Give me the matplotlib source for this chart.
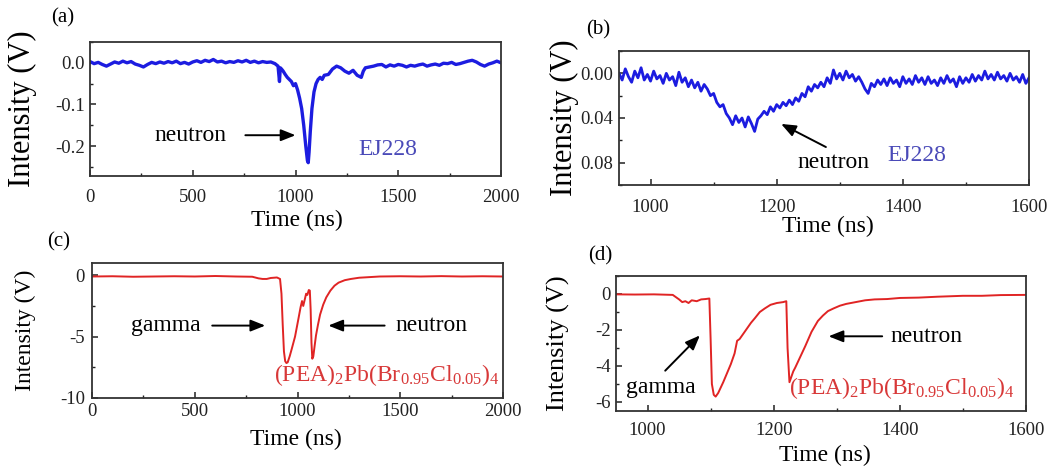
import numpy as np
import matplotlib
matplotlib.use("Agg")
import matplotlib.pyplot as plt
from matplotlib.ticker import MultipleLocator, FormatStrFormatter

plt.rcParams['font.family'] = ['Liberation Serif', 'DejaVu Serif']
plt.rcParams['mathtext.fontset'] = 'custom'
plt.rcParams['mathtext.rm'] = 'Liberation Serif'
plt.rcParams['mathtext.default'] = 'regular'
plt.rcParams['axes.unicode_minus'] = False

# ---------------- data ----------------
# (a) EJ228, full window
a_time = [0, 20, 40, 60, 80, 100, 120, 140, 160, 180,
          200, 220, 240, 260, 280, 300, 320, 340, 360, 380,
          400, 420, 440, 460, 480, 500, 520, 540, 560, 580,
          600, 620, 640, 660, 680, 700, 720, 740, 760, 780,
          800, 820, 840, 860, 880, 900, 915, 922, 926, 932,
          940, 950, 960, 970, 980, 990, 1000, 1010, 1020, 1030,
          1040, 1050, 1058, 1062, 1066, 1072, 1080, 1090, 1100, 1110,
          1120, 1130, 1140, 1160, 1180, 1200, 1220, 1240, 1260, 1280,
          1300, 1320, 1330, 1340, 1360, 1380, 1400, 1420, 1440, 1460,
          1480, 1500, 1520, 1540, 1560, 1580, 1600, 1620, 1640, 1660,
          1680, 1700, 1720, 1740, 1760, 1780, 1800, 1820, 1840, 1860,
          1880, 1900, 1920, 1940, 1960, 1980, 2000]
a_val = [0.003, -0.002, 0.001, -0.004, -0.008, -0.003, 0.002, -0.001, 0.004, 0.000,
         0.003, -0.003, -0.006, -0.010, -0.004, 0.001, -0.002, 0.002, -0.001, 0.003,
         0.000, 0.004, -0.002, 0.001, -0.003, 0.002, 0.005, 0.001, 0.006, 0.003,
         0.008, 0.002, 0.004, 0.000, 0.003, 0.001, 0.005, 0.002, 0.006, 0.001,
         0.004, 0.000, 0.003, 0.001, 0.002, -0.002, -0.008, -0.045, -0.012, -0.015,
         -0.020, -0.028, -0.035, -0.040, -0.045, -0.055, -0.050, -0.065, -0.085, -0.110,
         -0.150, -0.200, -0.235, -0.240, -0.215, -0.165, -0.110, -0.070, -0.050, -0.040,
         -0.035, -0.040, -0.030, -0.028, -0.015, -0.008, -0.012, -0.020, -0.025, -0.018,
         -0.030, -0.035, -0.020, -0.012, -0.010, -0.008, -0.005, -0.004, -0.010, -0.005,
         -0.008, -0.004, -0.006, -0.010, -0.006, -0.008, -0.005, -0.003, -0.008, -0.005,
         -0.003, -0.006, -0.001, -0.002, 0.001, -0.004, -0.002, 0.001, 0.004, 0.006,
         0.002, -0.004, -0.008, -0.003, 0.000, 0.004, 0.000]

# (b) EJ228, zoomed window (amplitude, axis drawn inverted)
b_time = np.arange(950, 1601, 5)
b_val = [0.000, 0.006, -0.004, 0.003, 0.008, -0.002, 0.004, -0.005, 0.006, 0.001,
         0.007, -0.002, 0.005, 0.002, 0.009, 0.000, 0.006, 0.003, 0.011, -0.001,
         0.008, 0.004, 0.012, 0.006, 0.013, 0.008, 0.016, 0.010, 0.014, 0.020,
         0.018, 0.026, 0.030, 0.028, 0.036, 0.040, 0.046, 0.038, 0.044, 0.040,
         0.048, 0.039, 0.045, 0.052, 0.041, 0.038, 0.034, 0.037, 0.030, 0.034,
         0.028, 0.031, 0.026, 0.029, 0.024, 0.028, 0.022, 0.025, 0.018, 0.021,
         0.012, 0.016, 0.010, 0.013, 0.008, 0.012, 0.004, 0.009, -0.003, 0.005,
         0.000, 0.006, -0.002, 0.004, 0.001, 0.007, 0.003, 0.008, 0.014, 0.018,
         0.009, 0.012, 0.006, 0.010, 0.005, 0.011, 0.004, 0.009, 0.006, 0.012,
         0.003, 0.009, 0.005, 0.010, 0.002, 0.008, 0.004, 0.010, 0.003, 0.009,
         0.006, 0.011, 0.004, 0.009, 0.002, 0.008, 0.005, 0.012, 0.003, 0.009,
         0.004, 0.008, 0.001, 0.007, 0.002, 0.006, -0.002, 0.005, 0.001, 0.006,
         -0.001, 0.005, 0.002, 0.007, 0.000, 0.006, 0.003, 0.008, 0.001, 0.009,
         0.004]

# (c) perovskite, full window
c_time = [0, 100, 200, 300, 400, 500, 600, 700, 780, 810,
          830, 850, 870, 900, 915, 922, 928, 934, 940, 946,
          952, 962, 972, 988, 1005, 1015, 1022, 1028, 1035, 1042,
          1048, 1055, 1060, 1064, 1068, 1072, 1077, 1083, 1090, 1100,
          1110, 1125, 1140, 1160, 1180, 1200, 1230, 1260, 1300, 1350,
          1400, 1500, 1600, 1700, 1800, 1900, 2000]
c_val = [-0.1, -0.08, -0.12, -0.1, -0.08, -0.1, -0.06, -0.1, -0.12, -0.25,
         -0.3, -0.3, -0.22, -0.18, -0.3, -1.5, -4.0, -6.2, -7.0, -7.15,
         -7.1, -6.6, -6.0, -5.0, -3.5, -2.6, -2.1, -2.5, -2.0, -1.5,
         -1.6, -1.2, -1.25, -2.8, -5.5, -6.8, -6.6, -5.8, -4.9, -4.0,
         -3.2, -2.4, -1.8, -1.25, -0.85, -0.6, -0.4, -0.3, -0.2, -0.15,
         -0.1, -0.08, -0.1, -0.07, -0.1, -0.08, -0.1]

# (d) perovskite, zoomed window
d_time = [950, 980, 1010, 1040, 1050, 1055, 1060, 1065, 1070, 1078,
          1085, 1092, 1098, 1100, 1102, 1105, 1108, 1112, 1116, 1120,
          1126, 1132, 1138, 1142, 1146, 1152, 1158, 1164, 1170, 1178,
          1186, 1195, 1205, 1215, 1220, 1222, 1225, 1228, 1231, 1234,
          1238, 1242, 1246, 1250, 1255, 1260, 1265, 1270, 1278, 1286,
          1295, 1305, 1315, 1330, 1345, 1360, 1380, 1400, 1430, 1460,
          1500, 1530, 1560, 1600]
d_val = [-0.02, -0.03, -0.02, -0.05, -0.3, -0.45, -0.4, -0.5, -0.35, -0.4,
         -0.3, -0.28, -0.25, -2.5, -5.0, -5.6, -5.7, -5.5, -5.2, -4.9,
         -4.4, -3.9, -3.3, -2.6, -2.5, -2.2, -1.9, -1.6, -1.35, -1.0,
         -0.8, -0.6, -0.5, -0.45, -0.4, -3.0, -4.9, -4.6, -4.3, -4.1,
         -3.8, -3.5, -3.2, -2.9, -2.5, -2.1, -1.8, -1.5, -1.2, -0.95,
         -0.8, -0.65, -0.55, -0.45, -0.35, -0.3, -0.28, -0.22, -0.2, -0.15,
         -0.1, -0.1, -0.06, -0.05]

formula = r'(PEA)$_2$Pb(Br$_{0.95}$Cl$_{0.05}$)$_4$'

BLUE = '#1c1ce0'
BLUE_TXT = '#4a4ab8'
RED = '#e02424'
RED_TXT = '#d83838'

W, H = 1051, 466
fig = plt.figure(figsize=(W / 100, H / 100), dpi=100)


def px_rect(l, r, t, b):
    return [l / W, 1 - b / H, (r - l) / W, (b - t) / H]


def style(ax, xpad, ypad):
    for s in ax.spines.values():
        s.set_linewidth(1.3)
        s.set_color('#333333')
    ax.tick_params(which='both', direction='in', top=False, right=False,
                   labelsize=13.5, colors='#222222')
    ax.tick_params(which='major', length=4, width=1.1)
    ax.tick_params(which='minor', length=2.5, width=1.0)
    ax.tick_params(axis='x', pad=xpad)
    ax.tick_params(axis='y', pad=ypad)


arrow = dict(arrowstyle='-|>,head_length=0.55,head_width=0.22', color='black',
             lw=1.4, mutation_scale=16, shrinkA=0, shrinkB=0)

# ---------------- (a) ----------------
ax = fig.add_axes(px_rect(90, 501, 42, 176))
ax.plot(a_time, a_val, color=BLUE, lw=2.4)
ax.set_xlim(0, 2000)
ax.set_ylim(-0.272, 0.05)
ax.xaxis.set_major_locator(MultipleLocator(500))
ax.xaxis.set_minor_locator(MultipleLocator(250))
ax.yaxis.set_major_locator(MultipleLocator(0.1))
ax.yaxis.set_minor_locator(MultipleLocator(0.05))
ax.yaxis.set_major_formatter(FormatStrFormatter('%.1f'))
style(ax, 9, 3.5)
ax.set_xlabel('Time (ns)', fontsize=17, va='center')
ax.xaxis.set_label_coords(0.504, -0.33)
ax.set_ylabel('Intensity (V)', fontsize=22, va='center')
ax.yaxis.set_label_coords(-0.165, 0.5)
ax.annotate('', xy=(1000, -0.174), xytext=(756, -0.174), arrowprops=arrow)
ax.text(490, -0.174, 'neutron', fontsize=17, ha='center', va='center')
ax.text(1449, -0.208, 'EJ228', fontsize=17, ha='center', va='center', color=BLUE_TXT)
fig.text(63 / W, 1 - 18 / H, '(a)', fontsize=15, ha='center', va='center')

# ---------------- (b) ----------------
ax = fig.add_axes(px_rect(619, 1029, 51, 185))
ax.plot(b_time, b_val, color=BLUE, lw=2.0)
ax.set_xlim(950, 1600)
ax.set_ylim(0.10, -0.02)
ax.xaxis.set_major_locator(MultipleLocator(200))
ax.xaxis.set_minor_locator(MultipleLocator(100))
ax.yaxis.set_major_locator(MultipleLocator(0.04))
ax.yaxis.set_minor_locator(MultipleLocator(0.02))
ax.yaxis.set_major_formatter(FormatStrFormatter('%.2f'))
style(ax, 10, 4)
ax.set_xlabel('Time (ns)', fontsize=17, va='center')
ax.xaxis.set_label_coords(0.51, -0.31)
ax.set_ylabel('Intensity (V)', fontsize=22, va='center')
ax.yaxis.set_label_coords(-0.132, 0.5)
ax.annotate('', xy=(1207, 0.0453), xytext=(1278, 0.066), arrowprops=arrow)
ax.text(1290, 0.080, 'neutron', fontsize=17, ha='center', va='center')
ax.text(1422, 0.0735, 'EJ228', fontsize=17, ha='center', va='center', color=BLUE_TXT)
fig.text(598 / W, 1 - 30 / H, '(b)', fontsize=15, ha='center', va='center')

# ---------------- (c) ----------------
ax = fig.add_axes(px_rect(92, 503, 263, 398))
ax.plot(c_time, c_val, color=RED, lw=1.4)
ax.set_xlim(0, 2000)
ax.set_ylim(-10, 1)
ax.xaxis.set_major_locator(MultipleLocator(500))
ax.xaxis.set_minor_locator(MultipleLocator(250))
ax.yaxis.set_major_locator(MultipleLocator(5))
ax.yaxis.set_minor_locator(MultipleLocator(2.5))
ax.yaxis.set_major_formatter(FormatStrFormatter('%d'))
style(ax, 3.5, 5)
ax.set_xlabel('Time (ns)', fontsize=17, va='center')
ax.xaxis.set_label_coords(0.496, -0.305)
ax.set_ylabel('Intensity (V)', fontsize=17, va='center')
ax.yaxis.set_label_coords(-0.163, 0.5)
ax.annotate('', xy=(843, -4.1), xytext=(585, -4.1), arrowprops=arrow)
ax.annotate('', xy=(1150, -4.1), xytext=(1424, -4.1), arrowprops=arrow)
ax.text(360, -4.1, 'gamma', fontsize=17, ha='center', va='center')
ax.text(1654, -4.1, 'neutron', fontsize=17, ha='center', va='center')
ax.text(1436, -8.15, formula, fontsize=17, ha='center', va='center', color=RED_TXT)
fig.text(59 / W, 1 - 242 / H, '(c)', fontsize=15, ha='center', va='center')

# ---------------- (d) ----------------
ax = fig.add_axes(px_rect(616, 1026, 276, 411))
ax.plot(d_time, d_val, color=RED, lw=1.4)
ax.set_xlim(950, 1600)
ax.set_ylim(-6.5, 1)
ax.xaxis.set_major_locator(MultipleLocator(200))
ax.xaxis.set_minor_locator(MultipleLocator(100))
ax.yaxis.set_major_locator(MultipleLocator(2))
ax.yaxis.set_minor_locator(MultipleLocator(1))
ax.yaxis.set_major_formatter(FormatStrFormatter('%d'))
style(ax, 8, 4)
ax.set_xlabel('Time (ns)', fontsize=17, va='center')
ax.xaxis.set_label_coords(0.51, -0.326)
ax.set_ylabel('Intensity (V)', fontsize=19, va='center')
ax.yaxis.set_label_coords(-0.141, 0.5)
ax.annotate('', xy=(1083, -2.3), xytext=(1028, -4.26), arrowprops=arrow)
ax.annotate('', xy=(1287, -2.35), xytext=(1372, -2.35), arrowprops=arrow)
ax.text(1021, -5.2, 'gamma', fontsize=17, ha='center', va='center')
ax.text(1385, -2.35, 'neutron', fontsize=17, ha='left', va='center')
ax.text(1403, -5.2, formula, fontsize=17, ha='center', va='center', color=RED_TXT)
fig.text(600 / W, 1 - 256 / H, '(d)', fontsize=15, ha='center', va='center')

fig.savefig('out.png', dpi=100)
